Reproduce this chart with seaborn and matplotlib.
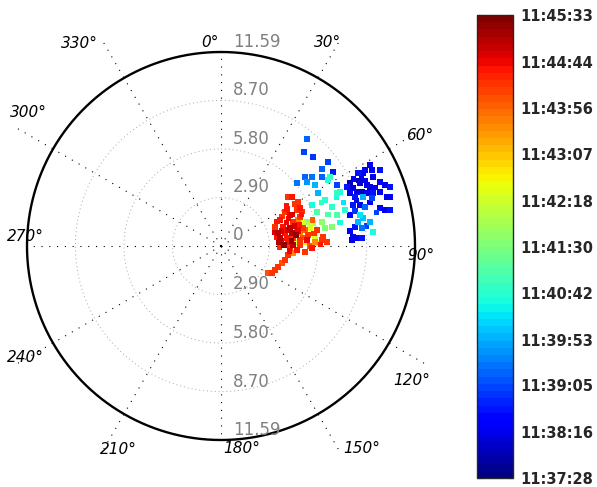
import numpy as np
import pandas as pd
import matplotlib
matplotlib.use('Agg')
import matplotlib.pyplot as plt
import seaborn as sns
from matplotlib.cm import ScalarMappable
from matplotlib.colors import Normalize

# radial grid values and angle ticks (compass style, 0 deg at top, clockwise)
r_max = 11.59
ring_vals = [2.90, 5.80, 8.70, 11.59]
angle_ticks = [0, 30, 60, 90, 120, 150, 180, 210, 240, 270, 300, 330]

# colorbar time labels
cbar_labels = ['11:37:28', '11:38:16', '11:39:05', '11:39:53', '11:40:42', '11:41:30',
               '11:42:18', '11:43:07', '11:43:56', '11:44:44', '11:45:33']

# points (x = east, y = north), t = seconds after 11:37:28
north_x = [5.14, 4.96, 5.49, 6.39, 6.03, 6.69, 5.01, 5.43, 6.03, 6.51, 4.54, 5.14, 5.61, 6.39, 5.79, 6.93]
north_y = [6.39, 5.61, 5.31, 5.01, 4.60, 4.42, 4.12, 4.12, 4.12, 4.12, 3.76, 3.82, 3.64, 3.94, 3.16, 3.64]
north_t = [107, 97, 87, 97, 107, 73, 107, 121, 107, 204, 121, 136, 146, 194, 146, 97]

east_x = [8.48, 8.18, 8.60, 8.90, 9.01, 9.07, 9.49, 9.79, 10.09, 7.70,
          8.30, 8.72, 7.88, 8.12, 8.42, 7.70, 7.10, 6.93, 8.72, 9.07,
          9.49, 9.91, 8.00, 8.48, 7.52, 9.49, 10.09, 7.88, 8.30, 8.60,
          9.49, 9.79, 10.09, 7.70, 8.30, 8.48, 8.18, 8.90, 8.00, 8.42,
          9.07, 7.88, 8.18, 7.82, 8.42, 9.01, 8.90,
          8.20, 8.60, 8.90, 8.10, 9.20, 8.40, 7.90, 9.30, 8.00, 8.70, 7.70]
east_y = [4.36, 4.36, 4.54, 4.84, 4.54, 4.12, 3.82, 3.64, 3.52, 3.76,
          3.76, 3.64, 3.46, 3.22, 3.22, 3.16, 3.22, 3.16, 3.16, 3.16,
          3.22, 2.93, 2.93, 2.93, 3.52, 4.54, 2.93, 2.45, 2.45, 2.33,
          2.27, 2.15, 2.15, 1.85, 1.85, 1.67, 1.43, 1.43, 1.13, 1.07,
          0.84, 0.54, 0.48, 0.36, 0.48, 2.87, 3.52,
          3.90, 3.90, 2.60, 2.70, 3.50, 4.10, 4.00, 2.00, 2.10, 1.20, 0.90]
east_t = [58, 73, 58, 49, 58, 49, 58, 49, 73, 29,
          39, 49, 39, 49, 29, 49, 184, 204, 49, 73,
          58, 49, 73, 146, 73, 73, 58, 73, 49, 107,
          58, 49, 73, 58, 170, 155, 146, 146, 73, 121,
          184, 49, 58, 39, 73, 97, 39,
          29, 39, 58, 39, 49, 49, 58, 97, 87, 97, 58]

mid_x = [5.43, 6.21, 6.63, 5.73, 6.63, 6.03, 6.21, 5.49, 5.14, 7.40, 6.93, 6.90, 7.30, 6.00, 6.40, 7.10]
mid_y = [2.45, 2.75, 2.33, 2.03, 1.13, 1.43, 1.07, 1.37, 1.43, 2.15, 1.85, 2.90, 2.60, 2.60, 1.90, 1.40]
mid_t = [184, 194, 204, 218, 243, 252, 243, 267, 243, 194, 218, 184, 170, 204, 218, 184]

west_x = [4.00, 4.60, 4.24, 4.54, 3.82, 4.72, 4.90, 4.72, 4.12, 3.52,
          4.30, 4.60, 3.22, 3.70, 4.12, 4.54, 4.90, 5.31, 5.73, 3.40,
          3.82, 4.24, 4.72, 5.19, 5.61, 6.09, 3.52, 3.94, 4.30, 4.72,
          5.14, 5.61, 6.03, 6.33, 4.30, 4.72, 4.00, 4.42, 5.01, 5.79,
          4.12, 4.54, 4.00, 3.82, 3.64, 3.40, 3.22, 3.04, 2.81, 4.30,
          5.43, 5.01, 3.76, 4.48, 4.00, 5.01, 5.31,
          3.60, 3.90, 4.40, 4.20, 4.60, 3.30, 3.60, 4.90, 4.40, 3.90, 4.10, 3.50, 5.30, 4.80,
          3.20, 3.45, 4.65, 5.55, 5.95, 4.05, 3.65, 4.25, 3.95, 4.85, 5.45, 3.35]
west_y = [2.93, 2.63, 2.93, 2.15, 2.03, 1.73, 1.37, 2.27, 1.85, 1.55,
          1.43, 1.55, 1.13, 1.13, 1.07, 1.07, 1.07, 1.07, 0.96, 0.78,
          0.78, 0.78, 0.78, 0.66, 0.54, 0.54, 0.48, 0.48, 0.48, 0.36,
          0.36, 0.24, 0.36, 0.24, 0.06, 0.06, 0.24, 0.18, 0.24, 0.18,
          -0.12, -0.24, -0.54, -0.84, -1.01, -1.25, -1.43, -1.61, -1.61, -0.42,
          -0.12, -0.36, 0.06, 0.66, 0.96, 0.96, 1.25,
          0.30, 1.40, 1.20, 0.30, 0.90, 0.50, 0.90, 0.50, 2.50, 2.40, -0.30, -0.10, 0.00, 1.90,
          0.80, 0.20, 1.25, 0.75, 0.10, 1.65, 1.75, 1.90, 2.20, 2.05, 1.55, 1.45]
west_t = [412, 412, 427, 412, 412, 412, 301, 427, 437, 427,
          412, 364, 412, 427, 461, 364, 412, 301, 412, 461,
          427, 461, 364, 412, 301, 412, 461, 427, 412, 412,
          437, 364, 412, 412, 461, 412, 427, 301, 315, 301,
          412, 427, 412, 412, 398, 412, 412, 412, 398, 364,
          427, 412, 475, 475, 446, 388, 281,
          446, 437, 446, 475, 437, 427, 446, 398, 412, 427, 437, 412, 398, 427,
          446, 461, 427, 412, 427, 437, 412, 446, 427, 412, 388, 427]

# where the angle labels sit (data units)
angle_label_pos = {0: (-0.66, 12.13), 30: (6.39, 12.13), 60: (11.89, 6.63), 90: (11.95, -0.54),
                   120: (11.41, -8.01), 150: (8.42, -12.07), 180: (1.25, -12.07), 210: (-6.15, -12.13),
                   240: (-11.71, -6.69), 270: (-11.71, 0.54), 300: (-11.53, 7.95), 330: (-8.48, 12.07)}


def to_sec(s):
    h, m, sec = map(int, s.split(':'))
    return h * 3600 + m * 60 + sec


def main():
    sns.set_style('white')
    plt.rcParams['font.family'] = ['DejaVu Sans']

    df = pd.concat([
        pd.DataFrame({'x': north_x, 'y': north_y, 't': north_t}),
        pd.DataFrame({'x': east_x, 'y': east_y, 't': east_t}),
        pd.DataFrame({'x': mid_x, 'y': mid_y, 't': mid_t}),
        pd.DataFrame({'x': west_x, 'y': west_y, 't': west_t}),
    ], ignore_index=True)
    df = df.sort_values('t')

    t0 = to_sec(cbar_labels[0])
    ticks = [to_sec(s) - t0 for s in cbar_labels]
    span = ticks[-1]
    cmap = matplotlib.colormaps['jet'].resampled(64)

    fig = plt.figure(figsize=(5.97, 4.87), dpi=100)
    ax = fig.add_axes([6 / 597, 26 / 487, 430 / 597, 430 / 487])
    lim = r_max * 215 / 194

    th = np.linspace(0, 2 * np.pi, 721)
    for r in ring_vals[:-1]:
        ax.plot(r * np.sin(th), r * np.cos(th), color='#a8a8a8', lw=0.7, ls=(0, (1, 3)), zorder=1)
    ax.plot(r_max * np.sin(th), r_max * np.cos(th), color='k', lw=1.7, zorder=4)

    for a in angle_ticks:
        ang = np.deg2rad(a)
        ln = r_max if a % 90 == 0 else 1.22 * r_max
        ax.plot([0, ln * np.sin(ang)], [0, ln * np.cos(ang)], color='k', lw=0.8,
                ls=(0, (1, 6)), zorder=1, clip_on=False)
        px, py = angle_label_pos[a]
        ax.text(px, py, f'{a}°', ha='center', va='center', fontsize=11, style='italic',
                color='k', zorder=5, clip_on=False)

    ax.text(0.72, 0.66, '0', color='#808080', fontsize=12, ha='left', va='center', zorder=5)
    for r in ring_vals:
        for sgn in (1, -1):
            ax.text(0.72, sgn * r + 0.6, f'{r:.2f}', color='#808080', fontsize=12,
                    ha='left', va='center', zorder=5, clip_on=False)

    sns.scatterplot(data=df, x='x', y='y', hue='t', palette=cmap, hue_norm=(0, span),
                    marker='s', s=15, linewidth=0, legend=False, ax=ax, zorder=3)
    ax.set_xlim(-lim, lim)
    ax.set_ylim(-lim, lim)
    ax.axis('off')

    cax = fig.add_axes([477 / 597, 9 / 487, 36 / 597, 463 / 487])
    sm = ScalarMappable(norm=Normalize(0, span), cmap=cmap)
    cb = fig.colorbar(sm, cax=cax)
    cb.set_ticks(ticks)
    cb.set_ticklabels(cbar_labels)
    cb.outline.set_linewidth(1)
    cax.tick_params(direction='in', length=3, labelsize=10.5, pad=5, left=True, right=True)
    for lab in cax.get_yticklabels():
        lab.set_fontweight('bold')

    fig.savefig('out.png', dpi=100)


if __name__ == '__main__':
    main()
